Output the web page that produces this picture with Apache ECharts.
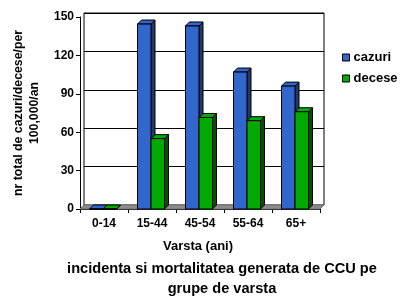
<!DOCTYPE html>
<html><head><meta charset="utf-8">
<script src="https://cdn.jsdelivr.net/npm/echarts@6/dist/echarts.min.js"></script>
<style>html,body{margin:0;padding:0;background:#fff}#c{width:410px;height:308px}</style>
</head><body><div id="c"></div>
<script>
const categories = ['0-14', '15-44', '45-54', '55-64', '65+'];
const cazuri = [0, 144.5, 143, 107, 96];
const decese = [0, 55, 71.5, 69, 76];
const yTicks = [0, 30, 60, 90, 120, 150];

const DX = 4, DY = -4, BW = 13.5;
const FONT = '"Liberation Sans", Arial, sans-serif';

function bar3d(front, side, top, slot) {
  return function (params, api) {
    const idx = api.value(0), v = api.value(1);
    const p = api.coord([idx, v]);
    const b = api.coord([idx, 0]);
    const x0 = p[0] - 1 + (slot === 0 ? -BW : 0);
    const x1 = x0 + BW;
    const yT = p[1], yB = b[1];
    const st = { stroke: '#000', lineWidth: 1 };
    return {
      type: 'group',
      children: [
        { type: 'polygon', shape: { points: [[x1, yT], [x1 + DX, yT + DY], [x1 + DX, yB + DY], [x1, yB]] }, style: Object.assign({ fill: side }, st) },
        { type: 'polygon', shape: { points: [[x0, yT], [x0 + DX, yT + DY], [x1 + DX, yT + DY], [x1, yT]] }, style: Object.assign({ fill: top }, st) },
        { type: 'rect', shape: { x: x0, y: yT, width: BW, height: yB - yT }, style: Object.assign({ fill: front }, st) }
      ]
    };
  };
}

const chart = echarts.init(document.getElementById('c'), null, { renderer: 'canvas' });
chart.setOption({
  animation: false,
  backgroundColor: '#fff',
  title: {
    text: 'incidenta si mortalitatea generata de CCU pe\ngrupe de varsta',
    left: 222, top: 259, textAlign: 'center', padding: 0,
    textStyle: { fontFamily: FONT, fontWeight: 'bold', fontSize: 14.6, color: '#000', lineHeight: 20 }
  },
  legend: {
    orient: 'vertical', left: 342, top: 51, itemGap: 8, padding: 0,
    icon: 'rect', itemWidth: 7, itemHeight: 7,
    itemStyle: { borderColor: '#000', borderWidth: 1 },
    textStyle: { fontFamily: FONT, fontWeight: 'bold', fontSize: 13, color: '#000', padding: [0, 0, 0, -1] },
    data: ['cazuri', 'decese']
  },
  grid: [
    { left: 80, top: 17, width: 240, height: 192 },
    { left: 80 + DX, top: 17 + DY, width: 240, height: 192, show: true, borderColor: '#000', borderWidth: 1, backgroundColor: 'transparent' }
  ],
  xAxis: [
    {
      type: 'category', data: categories, gridIndex: 0,
      axisLine: { lineStyle: { color: '#000', width: 1 } },
      axisTick: { show: true, length: 4, lineStyle: { color: '#000' } },
      axisLabel: { fontFamily: FONT, fontWeight: 'bold', fontSize: 12, color: '#000', margin: 9 },
      name: 'Varsta (ani)', nameLocation: 'middle', nameGap: 31,
      nameTextStyle: { fontFamily: FONT, fontWeight: 'bold', fontSize: 13, color: '#000', padding: [0, 0, 0, -4] },
      z: 1
    },
    { type: 'category', data: categories, gridIndex: 1, show: false }
  ],
  yAxis: [
    {
      type: 'value', gridIndex: 0, min: 0, max: 150, interval: 30,
      axisLine: { show: true, lineStyle: { color: '#000' } },
      axisTick: { show: true, length: 4, lineStyle: { color: '#000' } },
      axisLabel: { fontFamily: FONT, fontWeight: 'bold', fontSize: 12, color: '#000', margin: 6,
        formatter: v => yTicks.indexOf(v) >= 0 ? String(v) : '' },
      splitLine: { show: false },
      name: 'nr total de cazuri/decese/per\n100,000/an', nameLocation: 'middle', nameRotate: 90, nameGap: 34,
      nameTextStyle: { fontFamily: FONT, fontWeight: 'bold', fontSize: 12.3, color: '#000', lineHeight: 16 }
    },
    {
      type: 'value', gridIndex: 1, min: 0, max: 150, interval: 30,
      axisLine: { show: false }, axisTick: { show: false }, axisLabel: { show: false },
      splitLine: { show: true, lineStyle: { color: '#000', width: 1 } }
    }
  ],
  series: [
    {
      type: 'custom', name: 'floor', xAxisIndex: 0, yAxisIndex: 0, silent: true, z: 2,
      data: [[0, 0]],
      renderItem: function (params, api) {
        const cs = params.coordSys;
        const y0 = api.coord([0, 0])[1];
        const xl = cs.x, xr = cs.x + cs.width;
        return { type: 'polygon', shape: { points: [[xl, y0], [xl + DX, y0 + DY], [xr + DX, y0 + DY], [xr, y0]] },
          style: { fill: '#8c8c8c', stroke: '#707070', lineWidth: 1 } };
      }
    },
    {
      type: 'custom', name: 'cazuri', xAxisIndex: 0, yAxisIndex: 0, z: 3,
      itemStyle: { color: '#3366CC' },
      data: cazuri.map((v, i) => [i, v]),
      renderItem: bar3d('#3366CC', '#1F3870', '#3366CC', 0)
    },
    {
      type: 'custom', name: 'decese', xAxisIndex: 0, yAxisIndex: 0, z: 4,
      itemStyle: { color: '#00AA00' },
      data: decese.map((v, i) => [i, v]),
      renderItem: bar3d('#00AA00', '#005500', '#00AA00', 1)
    }
  ]
});
</script></body></html>
